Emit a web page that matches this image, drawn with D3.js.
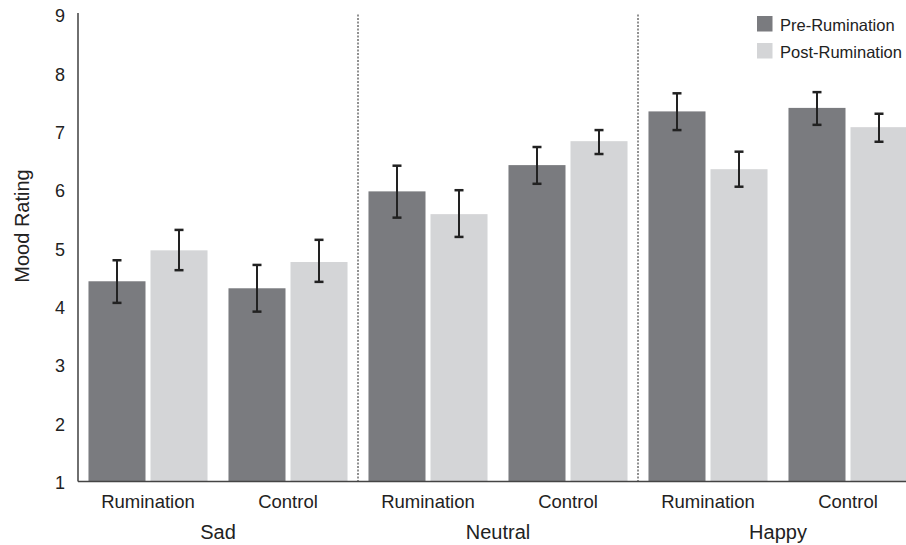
<!DOCTYPE html>
<html lang="en">
<head>
<meta charset="UTF-8">
<title>Mood Rating</title>
<script src="https://cdn.jsdelivr.net/npm/d3@7"></script>
<style>
  body { margin: 0; background: #fff; }
  svg { display: block; font-family: "Liberation Sans", Arial, Helvetica, sans-serif; }
</style>
</head>
<body>
<div id="chart"></div>
<script>
// data
var moods = ["Sad", "Neutral", "Happy"];
var conditions = ["Rumination", "Control"];
var phases = ["Pre-Rumination", "Post-Rumination"];
var yTicks = [1, 2, 3, 4, 5, 6, 7, 8, 9];

// means per mood x condition, in order Sad-Rum, Sad-Ctrl, Neu-Rum, Neu-Ctrl, Hap-Rum, Hap-Ctrl
var preMeans  = [4.43, 4.31, 5.97, 6.42, 7.34, 7.40];
var postMeans = [4.96, 4.76, 5.58, 6.83, 6.35, 7.07];
// error bar ends (low / high)
var preLow   = [4.06, 3.91, 5.52, 6.10, 7.02, 7.11];
var preHigh  = [4.79, 4.71, 6.41, 6.73, 7.65, 7.67];
var postLow  = [4.62, 4.42, 5.19, 6.61, 6.05, 6.82];
var postHigh = [5.31, 5.14, 5.99, 7.02, 6.65, 7.30];

var colors = ["#7a7b7f", "#d4d5d7"];

var width = 906, height = 545;
var mLeft = 78, mTop = 14.5, mBottom = 481.5;

// build rows from arrays
var rows = [];
moods.forEach(function(m, i){
    conditions.forEach(function(c, j){
        var k = i * 2 + j;
        rows.push({mood: m, cond: c, phase: phases[0], v: preMeans[k], lo: preLow[k], hi: preHigh[k]});
        rows.push({mood: m, cond: c, phase: phases[1], v: postMeans[k], lo: postLow[k], hi: postHigh[k]});
    });
});

var svg = d3.select('#chart')
    .append('svg')
    .attr('width', width)
    .attr('height', height);

var x0 = d3.scaleBand().domain(moods).range([mLeft, mLeft + 840]);
var x1 = d3.scaleBand().domain(conditions).range([0, x0.bandwidth()]);
var x2 = d3.scaleBand().domain(phases).range([0, x1.bandwidth()])
    .paddingInner(0.0806).paddingOuter(0.169);
var y = d3.scaleLinear().domain([1, 9]).range([mBottom, mTop]);
var color = d3.scaleOrdinal().domain(phases).range(colors);

function barX(d){ return x0(d.mood) + x1(d.cond) + x2(d.phase); }

// bars
svg.append('g').selectAll('rect')
    .data(rows)
    .enter()
    .append('rect')
    .attr('x', barX)
    .attr('width', x2.bandwidth())
    .attr('y', function(d){ return y(d.v); })
    .attr('height', function(d){ return y(1) - y(d.v); })
    .attr('fill', function(d){ return color(d.phase); });

// error bars
var err = svg.append('g').selectAll('g')
    .data(rows)
    .enter()
    .append('g')
    .attr('stroke', '#222')
    .attr('stroke-width', 2);
err.append('line')
    .attr('x1', function(d){ return barX(d) + x2.bandwidth() / 2; })
    .attr('x2', function(d){ return barX(d) + x2.bandwidth() / 2; })
    .attr('y1', function(d){ return y(d.lo); })
    .attr('y2', function(d){ return y(d.hi); });
['lo', 'hi'].forEach(function(key){
    err.append('line')
        .attr('x1', function(d){ return barX(d) + x2.bandwidth() / 2 - 4.5; })
        .attr('x2', function(d){ return barX(d) + x2.bandwidth() / 2 + 4.5; })
        .attr('y1', function(d){ return y(d[key]); })
        .attr('y2', function(d){ return y(d[key]); })
        .attr('stroke-width', 2.5);
});

// dotted separators
svg.append('g').selectAll('line')
    .data(moods.slice(1))
    .enter()
    .append('line')
    .attr('x1', function(d){ return x0(d); })
    .attr('x2', function(d){ return x0(d); })
    .attr('y1', mTop)
    .attr('y2', mBottom)
    .attr('stroke', '#222')
    .attr('stroke-width', 1)
    .attr('stroke-dasharray', '2,1.5');

// axes
var yAxis = svg.append('g')
    .attr('transform', 'translate(' + mLeft + ',0)')
    .call(d3.axisLeft(y).tickValues(yTicks).tickSize(0).tickPadding(13).tickFormat(d3.format('d')));
yAxis.select('.domain').attr('stroke', '#222').attr('stroke-width', 1.3).attr('d', 'M0,' + (mTop - 1.5) + 'V' + mBottom);
yAxis.selectAll('text')
    .attr('font-size', 18)
    .attr('fill', '#222')
    .attr('dy', '0.4em');

svg.append('line')
    .attr('x1', mLeft)
    .attr('x2', width)
    .attr('y1', mBottom)
    .attr('y2', mBottom)
    .attr('stroke', '#444')
    .attr('stroke-width', 1.6);

// condition labels
var condRows = [];
moods.forEach(function(m){ conditions.forEach(function(c){ condRows.push({mood: m, cond: c}); }); });
svg.append('g').selectAll('text')
    .data(condRows)
    .enter()
    .append('text')
    .attr('x', function(d){ return x0(d.mood) + x1(d.cond) + x1.bandwidth() / 2; })
    .attr('y', 508)
    .attr('text-anchor', 'middle')
    .attr('font-size', 18.5)
    .attr('fill', '#222')
    .text(function(d){ return d.cond; });

// mood labels
svg.append('g').selectAll('text')
    .data(moods)
    .enter()
    .append('text')
    .attr('x', function(d){ return x0(d) + x0.bandwidth() / 2; })
    .attr('y', 539)
    .attr('text-anchor', 'middle')
    .attr('font-size', 20)
    .attr('fill', '#222')
    .text(function(d){ return d; });

// y title
svg.append('text')
    .attr('transform', 'translate(29,226) rotate(-90)')
    .attr('text-anchor', 'middle')
    .attr('font-size', 20)
    .attr('fill', '#222')
    .text('Mood Rating');

// legend
var legend = svg.append('g').selectAll('g')
    .data(phases)
    .enter()
    .append('g')
    .attr('transform', function(d, i){ return 'translate(757,' + (16 + i * 27) + ')'; });
legend.append('rect')
    .attr('width', 15.5)
    .attr('height', 15.5)
    .attr('fill', function(d){ return color(d); });
legend.append('text')
    .attr('x', 23)
    .attr('y', 14.5)
    .attr('font-size', 16.5)
    .attr('fill', '#222')
    .text(function(d){ return d; });
</script>
</body>
</html>
